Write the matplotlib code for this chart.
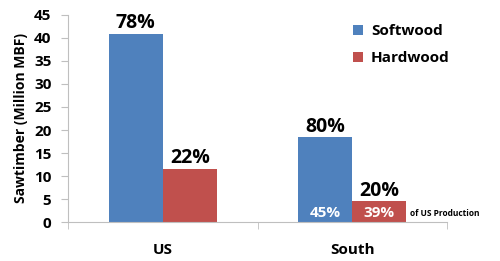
import numpy as np
import matplotlib
matplotlib.use("Agg")
import matplotlib.pyplot as plt

plt.rcParams['font.family'] = ['Open Sans', 'DejaVu Sans']
plt.rcParams['font.weight'] = 'bold'

# data
categories = ['US', 'South']
softwood = [40.9, 18.4]
hardwood = [11.6, 4.5]
soft_share = ['78%', '80%']
hard_share = ['22%', '20%']
# share of US production (South only)
south_of_us = ['45%', '39%']

blue = '#4F81BD'
red = '#C0504D'

fig = plt.figure(figsize=(5, 2.61), dpi=100)
ax = fig.add_axes([0.136, 0.149, 0.758, 0.794])

x = np.arange(len(categories))
w = 0.286
b1 = ax.bar(x - w / 2, softwood, w, color=blue, label='Softwood')
b2 = ax.bar(x + w / 2, hardwood, w, color=red, label='Hardwood')

# percent labels above bars
for rect, txt in zip(b1, soft_share):
    ax.text(rect.get_x() + rect.get_width() / 2, rect.get_height() + 0.1, txt,
            ha='center', va='bottom', fontsize=14, fontweight='bold')
for rect, txt in zip(b2, hard_share):
    ax.text(rect.get_x() + rect.get_width() / 2, rect.get_height() + 0.1, txt,
            ha='center', va='bottom', fontsize=14, fontweight='bold')

# white labels inside the South bars
ax.text(b1[1].get_x() + w / 2, 0.4, south_of_us[0], ha='center', va='bottom',
        color='white', fontsize=11, fontweight='bold')
ax.text(b2[1].get_x() + w / 2, 0.4, south_of_us[1], ha='center', va='bottom',
        color='white', fontsize=11, fontweight='bold')
ax.text(b2[1].get_x() + w + 0.02, 1.0, 'of US Production', ha='left', va='bottom',
        fontsize=6, fontweight='bold')

ax.set_xlim(-0.5, len(categories) - 0.5)
ax.set_ylim(0, 45)
ax.set_yticks(np.arange(0, 46, 5))
ax.set_xticks(x)
ax.set_xticklabels(categories, fontsize=11, fontweight='bold')
ax.set_xticks(np.arange(-0.5, len(categories), 1), minor=True)
ax.tick_params(axis='x', which='major', length=0, pad=15)
ax.tick_params(axis='x', which='minor', length=5, color='#BFBFBF', direction='out')
ax.tick_params(axis='y', length=5, color='#BFBFBF', labelsize=11, pad=7)
for lbl in ax.get_yticklabels():
    lbl.set_fontweight('bold')

ax.set_ylabel('Sawtimber (Million MBF)', fontsize=10, fontweight='bold', labelpad=4)

for s in ['top', 'right']:
    ax.spines[s].set_visible(False)
ax.spines['left'].set_color('#BFBFBF')
ax.spines['bottom'].set_color('#BFBFBF')

ax.legend(loc='upper left', bbox_to_anchor=(0.715, 1.02), frameon=False,
          handlelength=0.7, handleheight=0.7, handletextpad=0.5,
          labelspacing=0.85, prop={'weight': 'bold', 'size': 11})

fig.savefig('out.png', dpi=100)
